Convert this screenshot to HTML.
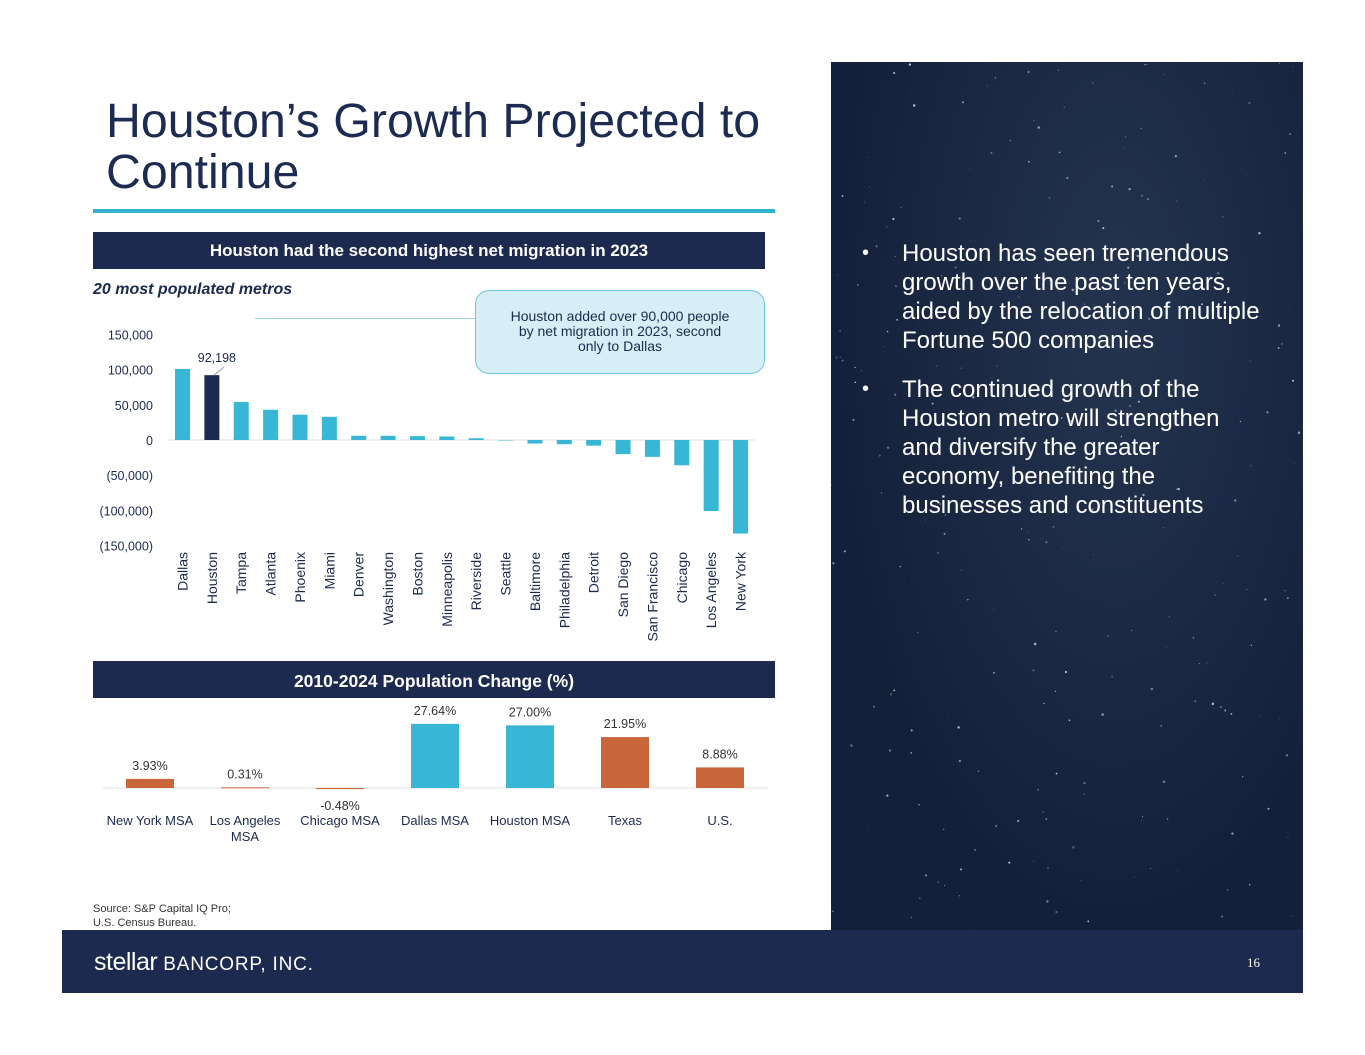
<!DOCTYPE html>
<html><head><meta charset="utf-8"><style>
body{margin:0;width:1365px;height:1055px;background:#fff;position:relative;font-family:"Liberation Sans",sans-serif;overflow:hidden}
.abs{position:absolute}
</style></head><body>
<div class="abs" style="left:106px;top:96px;font-size:48.3px;line-height:51px;color:#1C2B52">Houston’s Growth Projected to<br>Continue</div>
<div class="abs" style="left:93px;top:209px;width:682px;height:4px;background:#33B4CE"></div>
<div class="abs" style="left:93px;top:232px;width:672px;height:37px;background:#1C2A50;color:#fff;font-weight:bold;font-size:17px;text-align:center;line-height:37px">Houston had the second highest net migration in 2023</div>
<div class="abs" style="left:93px;top:281px;font-size:16px;font-weight:bold;font-style:italic;color:#1C2A50">20 most populated metros</div>
<div class="abs" style="left:255px;top:318px;width:220px;height:1px;background:#9DD6E4"></div>
<div class="abs" style="left:475px;top:290px;width:290px;height:84px;border:1px solid #6FC3D8;border-radius:14px;background:#D6EEF5;color:#1C2A50;font-size:14px;text-align:center;line-height:15px;box-sizing:border-box;padding-top:18px">Houston added over 90,000 people<br>by net migration in 2023, second<br>only to Dallas</div>
<svg class="abs" style="left:0;top:0" width="830" height="900" id="svg"></svg>
<div class="abs" style="left:93px;top:902px;font-size:11px;line-height:14px;color:#333">Source: S&amp;P Capital IQ Pro;<br>U.S. Census Bureau.</div>
<div class="abs" style="left:831px;top:62px;width:472px;height:868px;background:radial-gradient(ellipse at 60% 30%,#24344f,#14203a 70%)"></div>
<svg class="abs" style="left:831px;top:62px" width="472" height="868" id="stars"></svg>
<div class="abs" style="left:862px;top:239px;width:402px;color:#fff;font-size:24px;line-height:29px">
<div style="position:relative;padding-left:40px;margin-bottom:20px"><span style="position:absolute;left:0;font-size:20px">•</span>Houston has seen tremendous growth over the past ten years, aided by the relocation of multiple Fortune 500 companies</div>
<div style="position:relative;padding-left:40px"><span style="position:absolute;left:0;font-size:20px">•</span>The continued growth of the Houston metro will strengthen and diversify the greater economy, benefiting the businesses and constituents</div>
</div>
<div class="abs" style="left:62px;top:930px;width:1241px;height:63px;background:#1B2A4E"></div>
<div class="abs" style="left:94px;top:948px;color:#fff;line-height:28px"><span style="font-size:25px;letter-spacing:-0.5px">stellar</span><span style="font-size:19px;letter-spacing:0.8px"> BANCORP, INC.</span></div>
<div class="abs" style="left:1247px;top:955px;color:#fff;font-size:13px;font-family:'Liberation Serif',serif">16</div>
<script>
const metros=["Dallas","Houston","Tampa","Atlanta","Phoenix","Miami","Denver","Washington","Boston","Minneapolis","Riverside","Seattle","Baltimore","Philadelphia","Detroit","San Diego","San Francisco","Chicago","Los Angeles","New York"];
const migration=[101000,92198,54000,43000,36000,33000,6000,6000,5500,5000,2500,-500,-5000,-6000,-8000,-20000,-24000,-36000,-101000,-133000];
const yTicks=[150000,100000,50000,0,-50000,-100000,-150000];
const yTickLabels=["150,000","100,000","50,000","0","(50,000)","(100,000)","(150,000)"];
const popCats=["New York MSA","Los Angeles\nMSA","Chicago MSA","Dallas MSA","Houston MSA","Texas","U.S."];
const popVals=[3.93,0.31,-0.48,27.64,27.00,21.95,8.88];
const popLabels=["3.93%","0.31%","-0.48%","27.64%","27.00%","21.95%","8.88%"];
const popColors=["#C9663A","#C9663A","#C9663A","#38B6D6","#38B6D6","#C9663A","#C9663A"];
const NS="http://www.w3.org/2000/svg";
const svg=document.getElementById('svg');
function mk(t,a,txt){const e=document.createElementNS(NS,t);for(const k in a)e.setAttribute(k,a[k]);if(txt!=null)e.textContent=txt;svg.appendChild(e);return e;}
const y1=v=>440-v*(105.5/150000);
const x1=i=>182.5+i*29.37;
yTicks.forEach((t,i)=>{const e=mk('text',{x:153,y:y1(t)+5,'text-anchor':'end','font-size':12.5,fill:'#1C2A50','font-family':'Liberation Sans'},yTickLabels[i]);

});
const ax=mk('line',{x1:168,x2:755,y1:y1(0),y2:y1(0),stroke:'#ddd','stroke-width':1});


metros.forEach((m,i)=>{const v=migration[i];const y=Math.min(y1(v),y1(0));
const r=mk('rect',{x:x1(i)-7.5,y:y,width:15,height:Math.max(Math.abs(y1(v)-y1(0)),0.5),fill:i==1?'#1C2A50':'#38B6D6'});


const tx=x1(i)+5;const t=mk('text',{x:0,y:0,transform:`translate(${tx},552) rotate(-90)`,'text-anchor':'end','font-size':14,fill:'#1C2A50','font-family':'Liberation Sans'},m);

});
const hl=mk('text',{x:x1(1)+5,y:y1(migration[1])-13,'text-anchor':'middle','font-size':12.5,fill:'#1C2A50','font-family':'Liberation Sans'},"92,198");


mk('line',{x1:x1(1)+2,y1:y1(migration[1]),x2:x1(1)+12,y2:y1(migration[1])-8,stroke:'#8899bb','stroke-width':1});
const h2=mk('rect',{x:93,y:661,width:682,height:37,fill:'#1C2A50'});


mk('text',{x:434,y:687,'text-anchor':'middle','font-size':17.5,'font-weight':'bold',fill:'#fff','font-family':'Liberation Sans'},"2010-2024 Population Change (%)");
const y2=v=>788-v*2.32;
const x2=i=>150+i*95;
const ax2=mk('line',{x1:103,x2:768,y1:788,y2:788,stroke:'#ddd','stroke-width':1});


popCats.forEach((c,i)=>{const v=popVals[i];const y=Math.min(y2(v),788);
const r=mk('rect',{x:x2(i)-24,y:y,width:48,height:Math.max(Math.abs(y2(v)-788),1),fill:popColors[i]});


const ly=v>=0?y2(v)-9:y2(v)+21;
const l=mk('text',{x:x2(i),y:ly,'text-anchor':'middle','font-size':12.5,fill:'#333','font-family':'Liberation Sans'},popLabels[i]);


c.split('\n').forEach((ln,j)=>{const t=mk('text',{x:x2(i),y:825+j*16,'text-anchor':'middle','font-size':13,fill:'#1C2A50','font-family':'Liberation Sans'},ln);

});});
const st=document.getElementById('stars');
let s=7;function rnd(){s=(s*9301+49297)%233280;return s/233280;}
for(let i=0;i<260;i++){const c=document.createElementNS(NS,'circle');c.setAttribute('cx',rnd()*472);c.setAttribute('cy',rnd()*868);c.setAttribute('r',rnd()*1+0.3);c.setAttribute('fill','#cfd8e8');c.setAttribute('opacity',0.3+rnd()*0.6);st.appendChild(c);}
</script>
</body></html>
